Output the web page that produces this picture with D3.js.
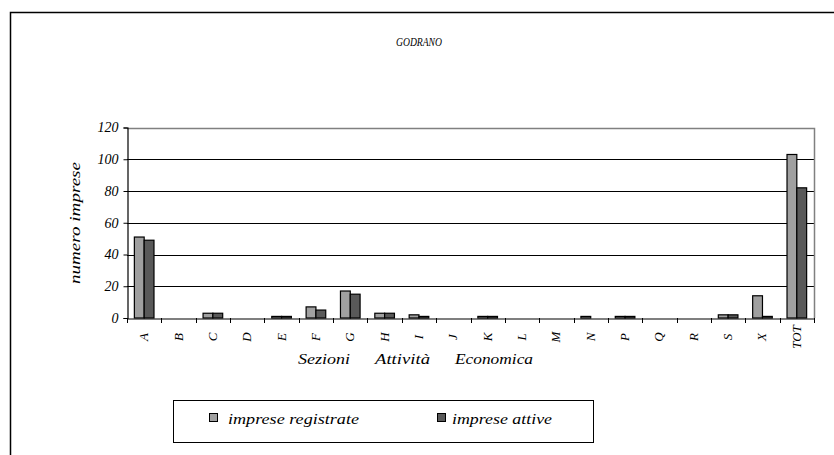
<!DOCTYPE html>
<html>
<head>
<meta charset="utf-8">
<script src="https://cdn.jsdelivr.net/npm/d3@7"></script>
<style>
  html, body { margin: 0; padding: 0; background: #fff; }
  svg { display: block; }
</style>
</head>
<body>
<svg id="chart" width="834" height="455"></svg>
<script>
const categories = ["A","B","C","D","E","F","G","H","I","J","K","L","M","N","P","Q","R","S","X","TOT"];
const seriesNames = ["imprese registrate", "imprese attive"];
const registrate = [51,0,3,0,1,7,17,3,2,0,1,0,0,1,1,0,0,2,14,103];
const attive     = [49,0,3,0,1,5,15,3,1,0,1,0,0,0,1,0,0,2,1,82];
const yTicks = [0,20,40,60,80,100,120];
const title = "GODRANO";
const xTitleWords = ["Sezioni", "Attività", "Economica"];
const yTitle = "numero imprese";

const colors = { "imprese registrate": "#a0a0a0", "imprese attive": "#595959" };
const FONT = "'Liberation Serif', 'Times New Roman', Tinos, 'DejaVu Serif', serif";

(function () {
const svg = d3.select("#chart")
  .attr("font-family", FONT).attr("font-style", "italic");

// outer frame
svg.append("path")
  .attr("d", "M10.5,460 L10.5,12.5 L840,12.5")
  .attr("fill", "none").attr("stroke", "#000").attr("stroke-width", 1.5);

const pL = 127, pR = 814, pT = 127.5, pB = 318;

const x = d3.scaleBand().domain(categories).range([pL, pR]).paddingInner(0).paddingOuter(0);
const bw = x.bandwidth() / 3.5;
const x1 = d3.scaleBand().domain(seriesNames).range([0.75 * bw, 2.75 * bw]).padding(0);
const y = d3.scaleLinear().domain([0, 120]).range([pB, pT]);

function txt(sel) {
  return sel.attr("font-family", FONT).attr("font-style", "italic").attr("fill", "#000");
}

// title
txt(svg.append("text")).attr("x", 396).attr("y", 46)
  .attr("font-size", 12.5).attr("textLength", 46).attr("lengthAdjust", "spacingAndGlyphs").text(title);

// gridlines
svg.append("g").selectAll("line").data(yTicks.filter(d => d > 0 && d < 120)).join("line")
  .attr("x1", pL).attr("x2", pR)
  .attr("y1", d => Math.round(y(d)) + 0.5).attr("y2", d => Math.round(y(d)) + 0.5)
  .attr("stroke", "#000").attr("stroke-width", 1);

// plot area border top & right (gray)
svg.append("path")
  .attr("d", `M${pL},${Math.round(pT)+0.5} L${pR+0.5},${Math.round(pT)+0.5} L${pR+0.5},${pB}`)
  .attr("fill", "none").attr("stroke", "#808080").attr("stroke-width", 1.5);

// bars
const data = [];
categories.forEach((c, i) => {
  data.push({ cat: c, s: seriesNames[0], v: registrate[i] });
  data.push({ cat: c, s: seriesNames[1], v: attive[i] });
});
svg.append("g").selectAll("rect").data(data.filter(d => d.v > 0)).join("rect")
  .attr("x", d => x(d.cat) + x1(d.s))
  .attr("width", x1.bandwidth())
  .attr("y", d => y(d.v))
  .attr("height", d => y(0) - y(d.v))
  .attr("fill", d => colors[d.s])
  .attr("stroke", "#000").attr("stroke-width", 1.2);

// y axis
const yAxis = d3.axisLeft(y).tickValues(yTicks).tickSize(4).tickPadding(5);
const gy = svg.append("g").attr("transform", `translate(${pL + 0.5},0)`).call(yAxis);
gy.attr("font-family", FONT).attr("font-size", 14);
gy.select(".domain").attr("stroke", "#000").attr("stroke-width", 1.2);
gy.selectAll(".tick line").attr("stroke", "#000");
txt(gy.selectAll(".tick text")).attr("font-size", 14);

// x axis
const gx = svg.append("g").attr("transform", `translate(0,${pB + 0.5})`)
  .call(d3.axisBottom(x).tickSize(0).tickFormat(""));
gx.select(".domain").attr("stroke", "#000").attr("stroke-width", 1.2);
// boundary ticks
const bounds = categories.map(c => x(c)).concat([pR]);
svg.append("g").selectAll("line").data(bounds).join("line")
  .attr("x1", d => Math.round(d) + 0.5).attr("x2", d => Math.round(d) + 0.5)
  .attr("y1", pB).attr("y2", pB + 5)
  .attr("stroke", "#000").attr("stroke-width", 1);
// rotated labels
txt(svg.append("g").selectAll("text").data(categories).join("text"))
  .attr("transform", d => `translate(${x(d) + x.bandwidth() / 2 + 4},337) rotate(-90)`)
  .attr("text-anchor", "middle")
  .attr("font-size", 13)
  .text(d => d);

// axis titles
const xtPos = [{ x: 298, w: 52 }, { x: 375, w: 55 }, { x: 455, w: 78 }];
xTitleWords.forEach((w, i) => {
  txt(svg.append("text")).attr("x", xtPos[i].x).attr("y", 364)
    .attr("font-size", 15).attr("textLength", xtPos[i].w).attr("lengthAdjust", "spacingAndGlyphs")
    .text(w);
});
txt(svg.append("text")).attr("transform", "translate(80,284) rotate(-90)")
  .attr("font-size", 15).attr("textLength", 122).attr("lengthAdjust", "spacingAndGlyphs").text(yTitle);

// legend
svg.append("rect").attr("x", 173.5).attr("y", 400.5).attr("width", 420).attr("height", 42)
  .attr("fill", "#fff").attr("stroke", "#000").attr("stroke-width", 1);
const legendPos = [{ sx: 209, tx: 228, w: 131 }, { sx: 437, tx: 452, w: 100 }];
seriesNames.forEach((s, i) => {
  svg.append("rect").attr("x", legendPos[i].sx + 0.5).attr("y", 413.5).attr("width", 8).attr("height", 8)
    .attr("fill", colors[s]).attr("stroke", "#000").attr("stroke-width", 1);
  txt(svg.append("text")).attr("x", legendPos[i].tx).attr("y", 424)
    .attr("font-size", 15).attr("textLength", legendPos[i].w).attr("lengthAdjust", "spacingAndGlyphs").text(s);
});
})();
</script>
</body>
</html>
